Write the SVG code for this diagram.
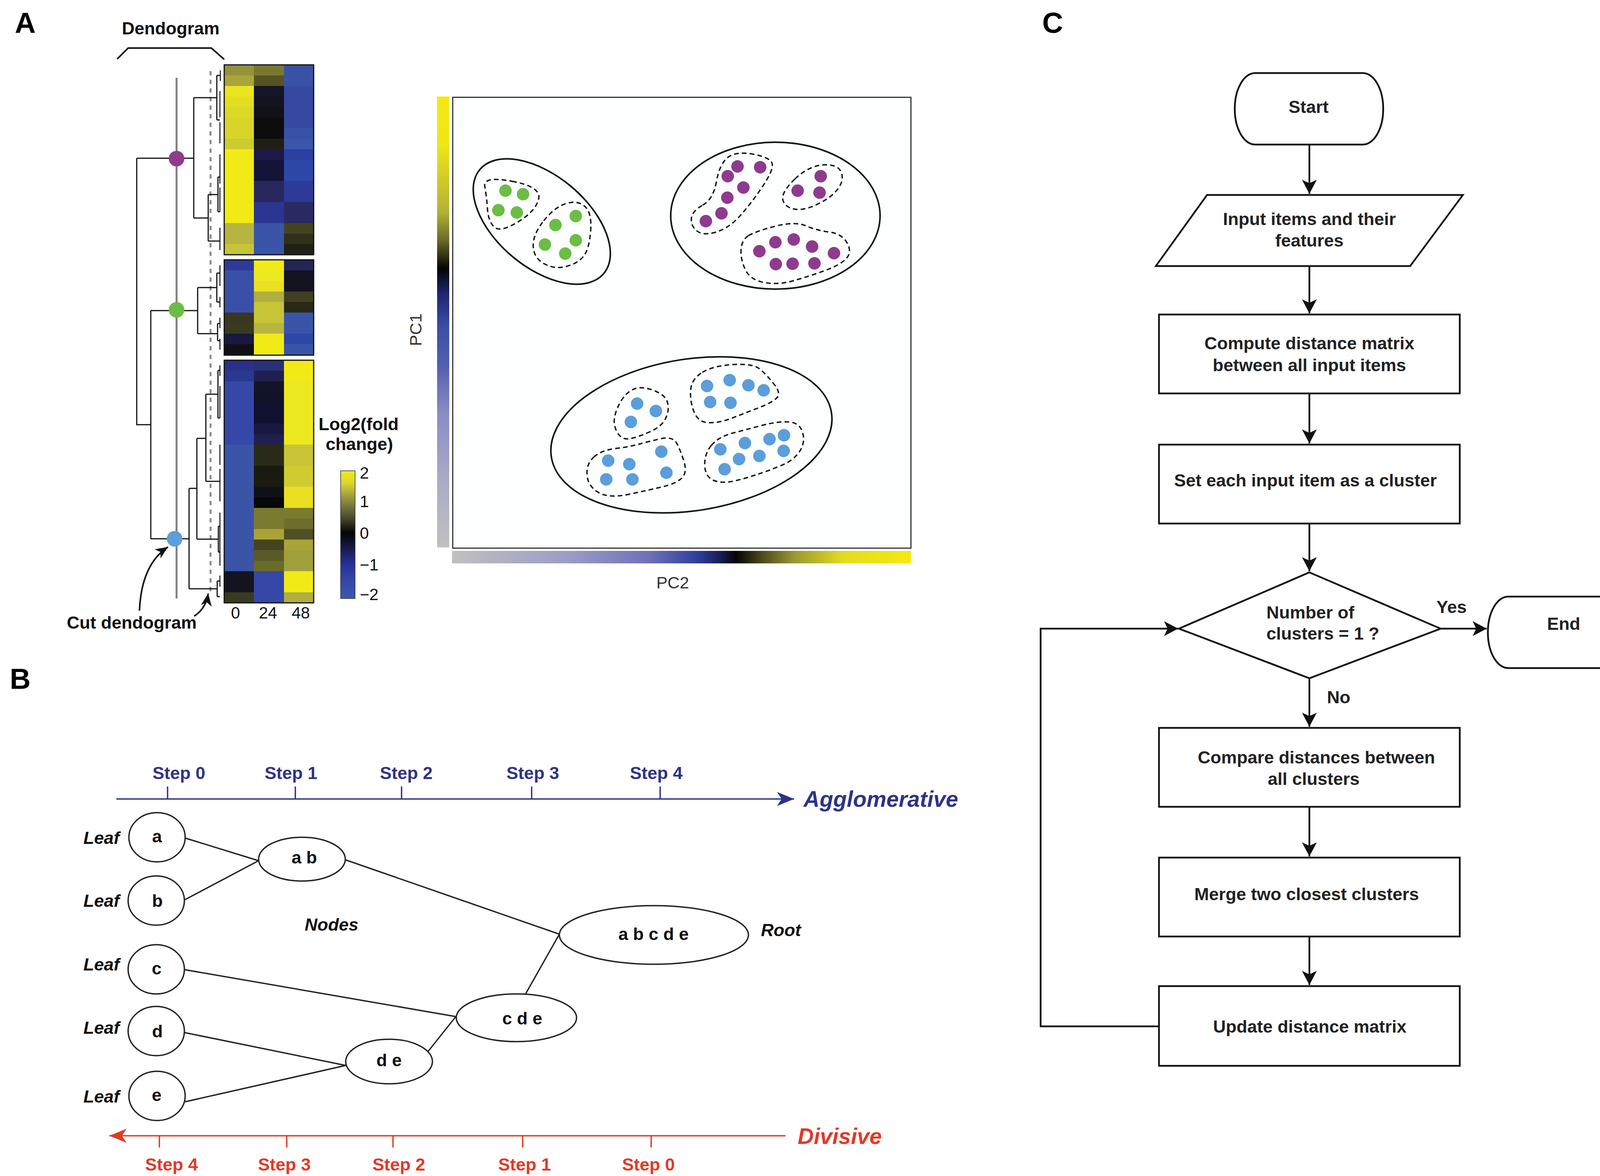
<svg xmlns="http://www.w3.org/2000/svg" width="4200" height="3010" viewBox="0 0 4200 3010">
<style>
text{font-family:"Liberation Sans",Arial,Helvetica,sans-serif}
.b{font-weight:bold}
.bi{font-weight:bold;font-style:italic}
.lbl{font-weight:bold;font-size:74px;fill:#000}
.f45{font-size:45px}
.mid{text-anchor:middle}
.dk{fill:#111}
.c3{fill:#222;font-weight:bold;font-size:45px}
.blue{fill:#2e3388}
.red{fill:#e03a27}
.dend{fill:none;stroke:#111;stroke-width:3}
.leaf{fill:none;stroke:#111;stroke-width:2.5}
.ell{fill:none;stroke:#111;stroke-width:4}
.dash{fill:none;stroke:#111;stroke-width:3.5;stroke-dasharray:12 8}
.pu{fill:#8e3b8e}.gr{fill:#6bbd45}.bl{fill:#5c9ddb}
.nodeB{fill:#fff;stroke:#222;stroke-width:3.5}
.edgeB{fill:none;stroke:#222;stroke-width:3.5}
.shape{fill:#fff;stroke:#111;stroke-width:4.5}
.flow{fill:none;stroke:#111;stroke-width:4.5}
.hm rect{stroke:none}
</style>
<defs>
<linearGradient id="gPC1" x1="0" y1="0" x2="0" y2="1">
<stop offset="0" stop-color="#f5e90f"/><stop offset="0.108" stop-color="#f0e515"/><stop offset="0.257" stop-color="#b4b036"/><stop offset="0.317" stop-color="#6e6c26"/><stop offset="0.381" stop-color="#050505"/><stop offset="0.437" stop-color="#1e2470"/><stop offset="0.511" stop-color="#3a4ea6"/><stop offset="0.6" stop-color="#5360b0"/><stop offset="0.705" stop-color="#8c8cc6"/><stop offset="0.854" stop-color="#ababc8"/><stop offset="1" stop-color="#c0c0c0"/>
</linearGradient>
<linearGradient id="gPC2" x1="0" y1="0" x2="1" y2="0">
<stop offset="0" stop-color="#c0c0c0"/><stop offset="0.252" stop-color="#9c9cc6"/><stop offset="0.428" stop-color="#6e72b8"/><stop offset="0.534" stop-color="#2f3f9c"/><stop offset="0.577" stop-color="#1c2262"/><stop offset="0.619" stop-color="#050505"/><stop offset="0.675" stop-color="#4a4a1c"/><stop offset="0.746" stop-color="#9a9832"/><stop offset="0.852" stop-color="#e2dc20"/><stop offset="1" stop-color="#f5e90f"/>
</linearGradient>
<linearGradient id="gLeg" x1="0" y1="0" x2="0" y2="1">
<stop offset="0" stop-color="#f2ea16"/><stop offset="0.1" stop-color="#d8d430"/><stop offset="0.23" stop-color="#8e8c40"/><stop offset="0.357" stop-color="#505030"/><stop offset="0.485" stop-color="#050505"/><stop offset="0.613" stop-color="#1a1a50"/><stop offset="0.733" stop-color="#28309a"/><stop offset="0.87" stop-color="#3548a8"/><stop offset="1" stop-color="#3a58b0"/>
</linearGradient>
<marker id="arC" markerUnits="userSpaceOnUse" viewBox="-40 -22 44 44" markerWidth="44" markerHeight="44" refX="0" refY="0" orient="auto"><path d="M0,0 L-36,-19 L-27,0 L-36,19 Z" fill="#111"/></marker>
<marker id="arBlue" markerUnits="userSpaceOnUse" viewBox="-48 -22 52 44" markerWidth="52" markerHeight="44" refX="0" refY="0" orient="auto"><path d="M0,0 L-44,-18 L-32,0 L-44,18 Z" fill="#2e3388"/></marker>
<marker id="arRed" markerUnits="userSpaceOnUse" viewBox="-48 -22 52 44" markerWidth="52" markerHeight="44" refX="0" refY="0" orient="auto"><path d="M0,0 L-44,-18 L-32,0 L-44,18 Z" fill="#e03a27"/></marker>
<marker id="arA" markerUnits="userSpaceOnUse" viewBox="-34 -16 38 32" markerWidth="38" markerHeight="32" refX="0" refY="0" orient="auto"><path d="M0,0 L-32,-14 L-23,0 L-32,14 Z" fill="#111"/></marker>
</defs>
<rect x="0" y="0" width="4200" height="3010" fill="#fff"/>

<!-- Panel labels -->
<text class="lbl" x="38" y="84">A</text>
<text class="lbl" x="25" y="1763">B</text>
<text class="lbl" x="2668" y="84">C</text>

<!-- ===== Panel A: heatmap ===== -->
<g id="heatmap" class="hm">
<g id="hm-block1">
<rect x="574" y="166" width="77" height="27" fill="#94923a"/><rect x="650" y="166" width="78" height="27" fill="#7a7830"/><rect x="727" y="166" width="76" height="27" fill="#3a52a6"/>
<rect x="574" y="193" width="77" height="27" fill="#a8a63a"/><rect x="650" y="193" width="78" height="27" fill="#555422"/><rect x="727" y="193" width="76" height="27" fill="#3a52a6"/>
<rect x="574" y="220" width="77" height="27" fill="#ebe41e"/><rect x="650" y="220" width="78" height="27" fill="#15152a"/><rect x="727" y="220" width="76" height="27" fill="#3549a2"/>
<rect x="574" y="247" width="77" height="27" fill="#e4de22"/><rect x="650" y="247" width="78" height="27" fill="#141420"/><rect x="727" y="247" width="76" height="27" fill="#3549a2"/>
<rect x="574" y="274" width="77" height="27" fill="#dcd826"/><rect x="650" y="274" width="78" height="27" fill="#111118"/><rect x="727" y="274" width="76" height="27" fill="#3549a2"/>
<rect x="574" y="301" width="77" height="27" fill="#d8d42a"/><rect x="650" y="301" width="78" height="27" fill="#0c0c0c"/><rect x="727" y="301" width="76" height="27" fill="#3549a2"/>
<rect x="574" y="328" width="77" height="27" fill="#d8d42a"/><rect x="650" y="328" width="78" height="27" fill="#0c0c0c"/><rect x="727" y="328" width="76" height="27" fill="#3752a6"/>
<rect x="574" y="355" width="77" height="27" fill="#cccb30"/><rect x="650" y="355" width="78" height="27" fill="#1e1e14"/><rect x="727" y="355" width="76" height="27" fill="#3a56a8"/>
<rect x="574" y="382" width="77" height="27" fill="#f2ea16"/><rect x="650" y="382" width="78" height="27" fill="#1c1848"/><rect x="727" y="382" width="76" height="27" fill="#2b40a0"/>
<rect x="574" y="409" width="77" height="27" fill="#f2ea16"/><rect x="650" y="409" width="78" height="27" fill="#141438"/><rect x="727" y="409" width="76" height="27" fill="#2e48a8"/>
<rect x="574" y="436" width="77" height="27" fill="#f2ea16"/><rect x="650" y="436" width="78" height="27" fill="#141438"/><rect x="727" y="436" width="76" height="27" fill="#2e48a8"/>
<rect x="574" y="463" width="77" height="27" fill="#f2ea16"/><rect x="650" y="463" width="78" height="27" fill="#28285e"/><rect x="727" y="463" width="76" height="27" fill="#2e3a98"/>
<rect x="574" y="490" width="77" height="27" fill="#f2ea16"/><rect x="650" y="490" width="78" height="27" fill="#28285e"/><rect x="727" y="490" width="76" height="27" fill="#2e3a98"/>
<rect x="574" y="517" width="77" height="27" fill="#f2ea16"/><rect x="650" y="517" width="78" height="27" fill="#2b3592"/><rect x="727" y="517" width="76" height="27" fill="#2a2a60"/>
<rect x="574" y="544" width="77" height="27" fill="#f2ea16"/><rect x="650" y="544" width="78" height="27" fill="#2b3592"/><rect x="727" y="544" width="76" height="27" fill="#2a2a60"/>
<rect x="574" y="571" width="77" height="27" fill="#b8b440"/><rect x="650" y="571" width="78" height="27" fill="#3a55a8"/><rect x="727" y="571" width="76" height="27" fill="#444420"/>
<rect x="574" y="598" width="77" height="27" fill="#b8b440"/><rect x="650" y="598" width="78" height="27" fill="#3a55a8"/><rect x="727" y="598" width="76" height="27" fill="#303018"/>
<rect x="574" y="625" width="77" height="27" fill="#c8c438"/><rect x="650" y="625" width="78" height="27" fill="#3a55a8"/><rect x="727" y="625" width="76" height="27" fill="#202014"/>
<rect x="574" y="166" width="229" height="486" fill="none" stroke="#111" stroke-width="3" style="stroke:#111"/>
</g>
<g id="hm-block2">
<rect x="574" y="665" width="77" height="28" fill="#2e3a98"/><rect x="650" y="665" width="78" height="28" fill="#f2ea16"/><rect x="727" y="665" width="76" height="28" fill="#252555"/>
<rect x="574" y="692" width="77" height="28" fill="#3a50a8"/><rect x="650" y="692" width="78" height="28" fill="#ece820"/><rect x="727" y="692" width="76" height="28" fill="#121220"/>
<rect x="574" y="719" width="77" height="28" fill="#3a50a8"/><rect x="650" y="719" width="78" height="28" fill="#e8e020"/><rect x="727" y="719" width="76" height="28" fill="#121220"/>
<rect x="574" y="746" width="77" height="28" fill="#3a50a8"/><rect x="650" y="746" width="78" height="28" fill="#b0ae40"/><rect x="727" y="746" width="76" height="28" fill="#404020"/>
<rect x="574" y="773" width="77" height="28" fill="#3a50a8"/><rect x="650" y="773" width="78" height="28" fill="#c8c438"/><rect x="727" y="773" width="76" height="28" fill="#282818"/>
<rect x="574" y="800" width="77" height="28" fill="#383820"/><rect x="650" y="800" width="78" height="28" fill="#c8c438"/><rect x="727" y="800" width="76" height="28" fill="#3a55a8"/>
<rect x="574" y="827" width="77" height="28" fill="#3a3a1e"/><rect x="650" y="827" width="78" height="28" fill="#b8b440"/><rect x="727" y="827" width="76" height="28" fill="#3a55a8"/>
<rect x="574" y="854" width="77" height="28" fill="#181840"/><rect x="650" y="854" width="78" height="28" fill="#f2ea16"/><rect x="727" y="854" width="76" height="28" fill="#2e48a8"/>
<rect x="574" y="881" width="77" height="28" fill="#101018"/><rect x="650" y="881" width="78" height="28" fill="#f2ea16"/><rect x="727" y="881" width="76" height="28" fill="#3a55a8"/>
<rect x="574" y="665" width="229" height="244" fill="none" style="stroke:#111" stroke-width="3"/>
</g>
<g id="hm-block3">
<rect x="574" y="922" width="77" height="28" fill="#2a3088"/><rect x="650" y="922" width="78" height="28" fill="#283078"/><rect x="727" y="922" width="76" height="28" fill="#f2ea16"/>
<rect x="574" y="949" width="77" height="28" fill="#2a3890"/><rect x="650" y="949" width="78" height="28" fill="#202050"/><rect x="727" y="949" width="76" height="28" fill="#f2ea16"/>
<rect x="574" y="976" width="77" height="28" fill="#3548a8"/><rect x="650" y="976" width="78" height="28" fill="#141428"/><rect x="727" y="976" width="76" height="28" fill="#ece820"/>
<rect x="574" y="1003" width="77" height="28" fill="#3548a8"/><rect x="650" y="1003" width="78" height="28" fill="#121228"/><rect x="727" y="1003" width="76" height="28" fill="#ece820"/>
<rect x="574" y="1030" width="77" height="28" fill="#3548a8"/><rect x="650" y="1030" width="78" height="28" fill="#101030"/><rect x="727" y="1030" width="76" height="28" fill="#ece820"/>
<rect x="574" y="1057" width="77" height="28" fill="#3548a8"/><rect x="650" y="1057" width="78" height="28" fill="#101030"/><rect x="727" y="1057" width="76" height="28" fill="#ece820"/>
<rect x="574" y="1084" width="77" height="28" fill="#3548a8"/><rect x="650" y="1084" width="78" height="28" fill="#181840"/><rect x="727" y="1084" width="76" height="28" fill="#ece820"/>
<rect x="574" y="1111" width="77" height="28" fill="#3548a8"/><rect x="650" y="1111" width="78" height="28" fill="#202050"/><rect x="727" y="1111" width="76" height="28" fill="#ece820"/>
<rect x="574" y="1138" width="77" height="28" fill="#3a55a8"/><rect x="650" y="1138" width="78" height="28" fill="#2a2a18"/><rect x="727" y="1138" width="76" height="28" fill="#c8c438"/>
<rect x="574" y="1165" width="77" height="28" fill="#3a55a8"/><rect x="650" y="1165" width="78" height="28" fill="#2a2a18"/><rect x="727" y="1165" width="76" height="28" fill="#c8c438"/>
<rect x="574" y="1192" width="77" height="28" fill="#3a55a8"/><rect x="650" y="1192" width="78" height="28" fill="#1a1a10"/><rect x="727" y="1192" width="76" height="28" fill="#d0cc30"/>
<rect x="574" y="1219" width="77" height="28" fill="#3a55a8"/><rect x="650" y="1219" width="78" height="28" fill="#1a1a10"/><rect x="727" y="1219" width="76" height="28" fill="#d0cc30"/>
<rect x="574" y="1246" width="77" height="28" fill="#3a55a8"/><rect x="650" y="1246" width="78" height="28" fill="#101018"/><rect x="727" y="1246" width="76" height="28" fill="#e8e020"/>
<rect x="574" y="1273" width="77" height="28" fill="#3a55a8"/><rect x="650" y="1273" width="78" height="28" fill="#080808"/><rect x="727" y="1273" width="76" height="28" fill="#e8e020"/>
<rect x="574" y="1300" width="77" height="28" fill="#3a55a8"/><rect x="650" y="1300" width="78" height="28" fill="#7a7a30"/><rect x="727" y="1300" width="76" height="28" fill="#7a7a30"/>
<rect x="574" y="1327" width="77" height="28" fill="#3a55a8"/><rect x="650" y="1327" width="78" height="28" fill="#7a7a30"/><rect x="727" y="1327" width="76" height="28" fill="#6e6e2c"/>
<rect x="574" y="1354" width="77" height="28" fill="#3a55a8"/><rect x="650" y="1354" width="78" height="28" fill="#a8a438"/><rect x="727" y="1354" width="76" height="28" fill="#505024"/>
<rect x="574" y="1381" width="77" height="28" fill="#3a55a8"/><rect x="650" y="1381" width="78" height="28" fill="#444420"/><rect x="727" y="1381" width="76" height="28" fill="#a8a438"/>
<rect x="574" y="1408" width="77" height="28" fill="#3a55a8"/><rect x="650" y="1408" width="78" height="28" fill="#5a5a28"/><rect x="727" y="1408" width="76" height="28" fill="#a0a03a"/>
<rect x="574" y="1435" width="77" height="28" fill="#3a55a8"/><rect x="650" y="1435" width="78" height="28" fill="#6a6a2a"/><rect x="727" y="1435" width="76" height="28" fill="#a0a03a"/>
<rect x="574" y="1462" width="77" height="28" fill="#141420"/><rect x="650" y="1462" width="78" height="28" fill="#3548a8"/><rect x="727" y="1462" width="76" height="28" fill="#f2ea16"/>
<rect x="574" y="1489" width="77" height="28" fill="#141420"/><rect x="650" y="1489" width="78" height="28" fill="#3548a8"/><rect x="727" y="1489" width="76" height="28" fill="#f2ea16"/>
<rect x="574" y="1516" width="77" height="27" fill="#3a3a1e"/><rect x="650" y="1516" width="78" height="27" fill="#3548a8"/><rect x="727" y="1516" width="76" height="27" fill="#b0ae40"/>
<rect x="574" y="922" width="229" height="621" fill="none" style="stroke:#111" stroke-width="3"/>
</g>
<text class="f45 mid dk" x="603" y="1583" style="font-size:42px">0</text>
<text class="f45 mid dk" x="686" y="1583" style="font-size:42px">24</text>
<text class="f45 mid dk" x="770" y="1583" style="font-size:42px">48</text>
</g>

<g id="legend">
<text class="b f45 mid dk" x="918" y="1101">Log2(fold</text>
<text class="b f45 mid dk" x="920" y="1152">change)</text>
<rect x="872" y="1205" width="37" height="327" fill="url(#gLeg)" stroke="#333" stroke-width="1.5"/>
<text class="dk" x="921" y="1225" style="font-size:42px">2</text>
<text class="dk" x="921" y="1298" style="font-size:42px">1</text>
<text class="dk" x="921" y="1379" style="font-size:42px">0</text>
<text class="dk" x="921" y="1460" style="font-size:42px">−1</text>
<text class="dk" x="921" y="1536" style="font-size:42px">−2</text>
</g>

<g id="dendrogram">
<text class="b f45 mid dk" x="437" y="88">Dendogram</text>
<path d="M300,151 L328,123 L541,123 L574,152" fill="none" stroke="#111" stroke-width="4"/>
<line x1="452" y1="199" x2="452" y2="1532" stroke="#808080" stroke-width="5"/>
<line x1="539" y1="182" x2="539" y2="1522" stroke="#8a8a8a" stroke-width="5" stroke-dasharray="11 11"/>
<path class="dend" d="M350,405 H496 M350,405 V1087 H386 M386,795 V1379 M386,795 H506 M386,1379 H484
M496,250 V558 M496,250 H555 M555,193 V307 M555,193 H564 M555,307 H563 M496,558 H533 M533,498 V617 M533,498 H558 M558,453 V542 M558,453 H563 M558,542 H563 M533,617 H563
M506,736 V854 M506,736 H555 M555,699 V773 M555,699 H563 M555,773 H563 M506,854 H557 M557,828 V872 M557,828 H563 M557,872 H563
M484,1250 V1507 M484,1250 H504 M504,1122 V1380 M504,1122 H527 M527,1009 V1232 M527,1009 H558 M558,948 V1070 M558,948 H563 M558,1070 H563 M527,1232 H563 M504,1380 H559 M559,1347 V1413 M559,1347 H563 M559,1413 H563 M484,1507 H556 M556,1487 V1527 M556,1487 H563 M556,1527 H563"/>
<path class="leaf" d="M564,180 V207 M563,233 V300 M563,313 V367 M563,395 V470 M563,480 V542 M563,583 V640 M563,679 V732 M563,760 V787 M563,813 V840 M563,867 V895 M563,935 V962 M563,988 V1070 M563,1138 V1190 M563,1200 V1283 M563,1312 V1448 M563,1473 V1502"/>
<circle cx="452" cy="406" r="20" class="pu"/>
<circle cx="452" cy="793" r="20" class="gr"/>
<circle cx="447" cy="1379" r="20" class="bl"/>
<path d="M357,1563 Q362,1445 430,1400" fill="none" stroke="#111" stroke-width="4" marker-end="url(#arA)"/>
<path d="M497,1577 Q527,1558 533,1519" fill="none" stroke="#111" stroke-width="4" marker-end="url(#arA)"/>
<text class="b f45 dk" x="171" y="1609">Cut dendogram</text>
</g>

<!-- ===== Panel A: PCA ===== -->
<g id="pca">
<rect x="1119" y="247" width="31" height="1154" fill="url(#gPC1)"/>
<rect x="1157" y="1410" width="1175" height="32" fill="url(#gPC2)"/>
<rect x="1159" y="249" width="1173" height="1154" fill="#fcfffe" stroke="#111" stroke-width="2.5"/>
<text x="1722" y="1506" class="mid" style="font-size:43px;fill:#333">PC2</text>
<text x="0" y="0" class="mid" transform="translate(1079,844) rotate(-90)" style="font-size:43px;fill:#333">PC1</text>
<g id="cluster-green">
<ellipse class="ell" cx="1387" cy="567" rx="207" ry="117" transform="rotate(40 1387 567)"/>
<path class="dash" d="M1311,464 Q1386,478 1379,509 Q1372,540 1326,568 Q1280,596 1265,581 Q1250,566 1248,535 Q1246,505 1241,477 Q1236,450 1311,464 Z"/>
<path class="dash" d="M1392,565 Q1420,530 1449,521 Q1478,512 1497,528 Q1516,545 1512,592 Q1508,640 1493,657 Q1478,675 1449,682 Q1420,690 1393,675 Q1366,660 1365,630 Q1364,600 1392,565 Z"/>
<g class="gr"><circle cx="1294" cy="488" r="16"/><circle cx="1339" cy="497" r="16"/><circle cx="1276" cy="538" r="16"/><circle cx="1323" cy="544" r="16"/><circle cx="1474" cy="553" r="16"/><circle cx="1422" cy="576" r="16"/><circle cx="1474" cy="615" r="16"/><circle cx="1395" cy="626" r="16"/><circle cx="1447" cy="649" r="16"/></g>
</g>
<g id="cluster-purple">
<ellipse class="ell" cx="1985" cy="552" rx="268" ry="188"/>
<path class="dash" d="M1799,525 Q1826,510 1834,465 Q1842,420 1863,403 Q1885,386 1930,395 Q1975,404 1977,420 Q1980,436 1951,479 Q1922,522 1894,553 Q1866,584 1833,594 Q1800,604 1784,591 Q1768,578 1770,559 Q1772,540 1799,525 Z"/>
<path class="dash" d="M2035,458 Q2070,425 2107,422 Q2145,420 2153,440 Q2162,460 2146,482 Q2130,505 2094,522 Q2058,540 2033,535 Q2008,530 2004,511 Q2000,492 2035,458 Z"/>
<path class="dash" d="M1916,603 Q1935,592 1985,579 Q2035,566 2063,578 Q2092,590 2123,594 Q2155,598 2168,621 Q2182,645 2167,661 Q2152,678 2113,692 Q2075,706 2033,718 Q1992,730 1956,723 Q1920,716 1908,690 Q1896,665 1897,640 Q1898,615 1916,603 Z"/>
<g class="pu"><circle cx="1888" cy="426" r="16"/><circle cx="1946" cy="428" r="16"/><circle cx="1863" cy="451" r="16"/><circle cx="1903" cy="480" r="16"/><circle cx="1862" cy="506" r="16"/><circle cx="1847" cy="546" r="16"/><circle cx="1807" cy="566" r="16"/><circle cx="2101" cy="451" r="16"/><circle cx="2042" cy="488" r="16"/><circle cx="2098" cy="493" r="16"/><circle cx="1944" cy="643" r="16"/><circle cx="1985" cy="620" r="16"/><circle cx="2032" cy="613" r="16"/><circle cx="2079" cy="631" r="16"/><circle cx="2135" cy="648" r="16"/><circle cx="1986" cy="676" r="16"/><circle cx="2029" cy="675" r="16"/><circle cx="2085" cy="674" r="16"/></g>
</g>
<g id="cluster-blue">
<ellipse class="ell" cx="1770" cy="1113" rx="363" ry="194" transform="rotate(-9 1770 1113)"/>
<path class="dash" d="M1590,1026 Q1605,1002 1625,995 Q1646,988 1675,1000 Q1705,1012 1709,1031 Q1714,1050 1704,1071 Q1694,1092 1662,1106 Q1630,1120 1611,1123 Q1592,1126 1581,1108 Q1570,1090 1573,1070 Q1576,1050 1590,1026 Z"/>
<path class="dash" d="M1798,953 Q1826,936 1878,933 Q1930,930 1947,946 Q1965,962 1982,984 Q2000,1006 1989,1018 Q1978,1030 1944,1043 Q1910,1056 1877,1069 Q1845,1082 1816,1082 Q1788,1082 1777,1055 Q1766,1028 1768,999 Q1770,970 1798,953 Z"/>
<path class="dash" d="M1520,1170 Q1540,1152 1575,1148 Q1610,1144 1635,1137 Q1660,1130 1691,1123 Q1722,1116 1732,1134 Q1742,1152 1751,1181 Q1760,1210 1745,1224 Q1730,1238 1696,1246 Q1662,1254 1611,1265 Q1560,1276 1533,1261 Q1506,1246 1503,1217 Q1500,1188 1520,1170 Z"/>
<path class="dash" d="M1821,1140 Q1840,1118 1874,1109 Q1908,1100 1950,1089 Q1992,1078 2020,1080 Q2048,1082 2055,1108 Q2062,1134 2046,1157 Q2030,1180 1996,1193 Q1962,1207 1936,1215 Q1910,1224 1880,1231 Q1850,1238 1828,1230 Q1806,1222 1804,1192 Q1803,1162 1821,1140 Z"/>
<g class="bl"><circle cx="1631" cy="1033" r="16"/><circle cx="1679" cy="1052" r="16"/><circle cx="1615" cy="1080" r="16"/><circle cx="1810" cy="988" r="16"/><circle cx="1868" cy="973" r="16"/><circle cx="1916" cy="986" r="16"/><circle cx="1955" cy="999" r="16"/><circle cx="1818" cy="1029" r="16"/><circle cx="1870" cy="1031" r="16"/><circle cx="1557" cy="1179" r="16"/><circle cx="1611" cy="1188" r="16"/><circle cx="1693" cy="1156" r="16"/><circle cx="1552" cy="1227" r="16"/><circle cx="1619" cy="1227" r="16"/><circle cx="1706" cy="1210" r="16"/><circle cx="1844" cy="1150" r="16"/><circle cx="1907" cy="1134" r="16"/><circle cx="1970" cy="1124" r="16"/><circle cx="2007" cy="1114" r="16"/><circle cx="1892" cy="1175" r="16"/><circle cx="1944" cy="1167" r="16"/><circle cx="2006" cy="1154" r="16"/><circle cx="1855" cy="1201" r="16"/></g>
</g>
</g>

<!-- ===== Panel B ===== -->
<g id="panel-b-axes">
<path d="M298,2045 H2033" stroke="#2e3388" stroke-width="3.5" fill="none" marker-end="url(#arBlue)"/>
<path d="M429,2013 V2045 M756,2013 V2045 M1028,2013 V2045 M1361,2013 V2045 M1690,2013 V2045" stroke="#2e3388" stroke-width="3.5"/>
<g class="b f45 mid blue">
<text x="458" y="1994">Step 0</text><text x="745" y="1994">Step 1</text><text x="1040" y="1994">Step 2</text><text x="1364" y="1994">Step 3</text><text x="1680" y="1994">Step 4</text>
</g>
<text class="bi blue" x="2057" y="2065" style="font-size:57px">Agglomerative</text>
<path d="M2011,2907 H280" stroke="#e03a27" stroke-width="3.5" fill="none" marker-end="url(#arRed)"/>
<path d="M408,2907 V2937 M734,2907 V2937 M1006,2907 V2937 M1338,2907 V2937 M1667,2907 V2937" stroke="#e03a27" stroke-width="3.5"/>
<g class="b f45 mid red">
<text x="439" y="2996">Step 4</text><text x="728" y="2996">Step 3</text><text x="1021" y="2996">Step 2</text><text x="1343" y="2996">Step 1</text><text x="1660" y="2996">Step 0</text>
</g>
<text class="bi red" x="2042" y="2928" style="font-size:57px">Divisive</text>
</g>
<g id="panel-b-connectors">
<path class="edgeB" d="M474,2145 L662,2203 M473,2303 L662,2203 M885,2201 L1432,2391 M473,2482 L1167,2602 M473,2643 L885,2727 M474,2820 L885,2727 M1096,2691 L1167,2602 M1346,2543 L1432,2391"/>
</g>
<g class="bi f45 dk" style="text-anchor:end">
<text x="306" y="2160">Leaf</text><text x="306" y="2321">Leaf</text><text x="306" y="2484">Leaf</text><text x="306" y="2646">Leaf</text><text x="306" y="2822">Leaf</text>
</g>
<g id="leaf-a"><ellipse class="nodeB" cx="402" cy="2143" rx="72" ry="63"/><text class="b f45 mid dk" x="402" y="2156">a</text></g>
<g id="leaf-b"><ellipse class="nodeB" cx="400" cy="2305" rx="72" ry="63"/><text class="b f45 mid dk" x="403" y="2321">b</text></g>
<g id="leaf-c"><ellipse class="nodeB" cx="400" cy="2481" rx="72" ry="63"/><text class="b f45 mid dk" x="401" y="2494">c</text></g>
<g id="leaf-d"><ellipse class="nodeB" cx="400" cy="2639" rx="72" ry="63"/><text class="b f45 mid dk" x="403" y="2655">d</text></g>
<g id="leaf-e"><ellipse class="nodeB" cx="402" cy="2805" rx="72" ry="63"/><text class="b f45 mid dk" x="401" y="2818">e</text></g>
<g id="node-ab"><ellipse class="nodeB" cx="773" cy="2199" rx="111" ry="56"/><text class="b f45 mid dk" x="779" y="2210">a b</text></g>
<g id="node-de"><ellipse class="nodeB" cx="996" cy="2717" rx="111" ry="57"/><text class="b f45 mid dk" x="996" y="2729">d e</text></g>
<g id="node-cde"><ellipse class="nodeB" cx="1322" cy="2605" rx="154" ry="61"/><text class="b f45 mid dk" x="1337" y="2622">c d e</text></g>
<g id="node-abcde"><ellipse class="nodeB" cx="1674" cy="2393" rx="242" ry="75"/><text class="b f45 mid dk" x="1673" y="2406">a b c d e</text></g>
<text class="bi f45 dk" x="780" y="2382">Nodes</text>
<text class="bi f45 dk" x="1948" y="2396">Root</text>

<!-- ===== Panel C ===== -->
<g id="flow-connectors">
<path class="flow" d="M3352,370 V496" marker-end="url(#arC)"/>
<path class="flow" d="M3352,681 V802" marker-end="url(#arC)"/>
<path class="flow" d="M3352,1007 V1135" marker-end="url(#arC)"/>
<path class="flow" d="M3352,1340 V1462" marker-end="url(#arC)"/>
<path class="flow" d="M3688,1609 H3806" marker-end="url(#arC)"/>
<path class="flow" d="M3352,1736 V1860" marker-end="url(#arC)"/>
<path class="flow" d="M3352,2065 V2192" marker-end="url(#arC)"/>
<path class="flow" d="M3352,2397 V2521" marker-end="url(#arC)"/>
<path class="flow" d="M2967,2627 H2664 V1609 H3016" marker-end="url(#arC)"/>
<text class="c3" x="3716" y="1569" text-anchor="middle">Yes</text>
<text class="c3" x="3427" y="1800" text-anchor="middle">No</text>
</g>
<g id="start"><rect class="shape" x="3161" y="187" width="380" height="183" rx="52" ry="91"/><text class="c3 mid" x="3350" y="289">Start</text></g>
<g id="input"><polygon class="shape" points="3090,499 3745,499 3610,681 2959,681"/><text class="c3 mid" x="3352" y="576">Input items and their</text><text class="c3 mid" x="3352" y="631">features</text></g>
<g id="compute"><rect class="shape" x="2967" y="805" width="770" height="202"/><text class="c3 mid" x="3352" y="894">Compute distance matrix</text><text class="c3 mid" x="3352" y="950">between all input items</text></g>
<g id="set"><rect class="shape" x="2967" y="1138" width="770" height="202"/><text class="c3 mid" x="3342" y="1245">Set each input item as a cluster</text></g>
<g id="decision"><polygon class="shape" points="3352,1465 3688,1609 3352,1736 3018,1609"/><text class="c3" x="3242" y="1583">Number of</text><text class="c3" x="3242" y="1637">clusters = 1 ?</text></g>
<g id="end"><rect class="shape" x="3809" y="1527" width="381" height="183" rx="52" ry="91"/><text class="c3 mid" x="4003" y="1612">End</text></g>
<g id="compare"><rect class="shape" x="2967" y="1863" width="770" height="202"/><text class="c3 mid" x="3370" y="1954">Compare distances between</text><text class="c3 mid" x="3363" y="2009">all clusters</text></g>
<g id="merge"><rect class="shape" x="2967" y="2195" width="770" height="202"/><text class="c3 mid" x="3345" y="2304">Merge two closest clusters</text></g>
<g id="update"><rect class="shape" x="2967" y="2524" width="770" height="204"/><text class="c3 mid" x="3353" y="2643">Update distance matrix</text></g>
</svg>
